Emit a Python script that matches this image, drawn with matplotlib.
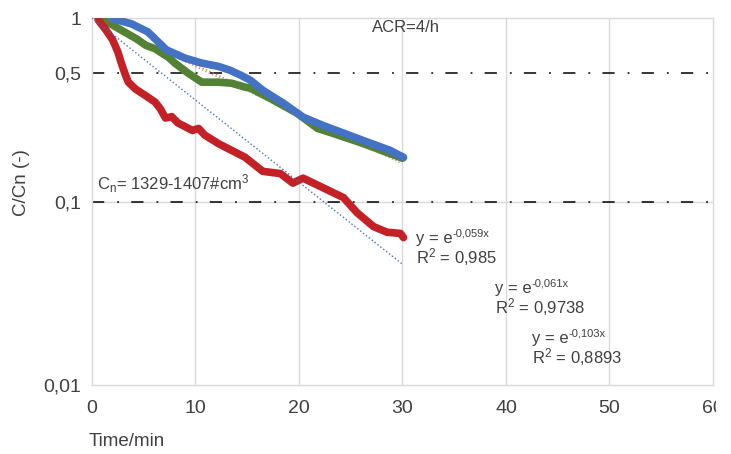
import matplotlib.pyplot as plt
import matplotlib.transforms as mtransforms
import numpy as np

plt.rcParams['font.family'] = ['Liberation Sans', 'DejaVu Sans']
plt.rcParams['mathtext.default'] = 'regular'

# data (time in min, C/Cn)
t_red = [0.6, 1.35, 2.0, 2.5, 2.8, 3.2, 3.5, 4.2, 5.1, 6.1, 6.6, 7.1, 7.7, 8.3, 9.7, 10.3, 10.9,
         12.2, 14.8, 16.5, 18.2, 19.4, 20.4, 22.3, 24.3, 25.6, 27.2, 28.5, 29.8, 30.1]
c_red = [0.975, 0.86, 0.759, 0.653, 0.575, 0.495, 0.448, 0.41, 0.38, 0.348, 0.32, 0.285, 0.29, 0.268,
         0.244, 0.25, 0.23, 0.207, 0.174, 0.146, 0.142, 0.126, 0.134, 0.119, 0.105, 0.087, 0.073,
         0.068, 0.067, 0.0636]

t_green = [0.6, 1.5, 2.8, 4.3, 5.2, 6.1, 6.9, 7.4, 8.0, 9.3, 10.6, 12.2, 13.5, 14.8, 15.3, 17.2,
           19.8, 21.8, 23.0, 26.2, 30.0]
c_green = [0.99, 0.95, 0.86, 0.77, 0.71, 0.68, 0.635, 0.61, 0.568, 0.50, 0.447, 0.447, 0.441, 0.42,
           0.415, 0.365, 0.303, 0.25, 0.238, 0.207, 0.172]

t_blue = [2.0, 3.8, 5.4, 6.4, 7.2, 9.0, 10.6, 12.2, 13.3, 14.3, 15.3, 16.5, 18.5, 20.4,
          22.3, 26.2, 28.8, 30.1]
c_blue = [0.99, 0.93, 0.84, 0.74, 0.67, 0.604, 0.568, 0.545, 0.52, 0.49, 0.458, 0.404, 0.343, 0.288,
          0.26, 0.215, 0.19, 0.174]

# exponential trendlines y = exp(k*x)
trend_k = [-0.059, -0.061, -0.103]
trend_colors = ['#ED7D31', '#A5A5A5', '#4472C4']
trend_x = [0, 30]

# trendline labels
eq_exps = ['-0,059x', '-0,061x', '-0,103x']
eq_r2 = ['0,985', '0,9738', '0,8893']

W, H = 731, 454
fig = plt.figure(figsize=(W/100, H/100), dpi=100)
ax = fig.add_axes([92/W, 1-385/H, (713-92)/W, (385-18)/H])

grid_c = '#D9D9D9'
txt_c = '#404040'

ax.set_yscale('log')
ax.set_xlim(0, 60)
ax.set_ylim(0.01, 1)

for x in [10, 20, 30, 40, 50]:
    ax.axvline(x, color=grid_c, lw=1, zorder=0)
ax.axhline(0.1, color=grid_c, lw=1, zorder=0)
for s in ax.spines.values():
    s.set_color(grid_c)
    s.set_linewidth(1)

# reference lines
for yv in [0.5, 0.1]:
    ax.plot([0, 60], [yv, yv], color='black', lw=1.1, dashes=(8, 8.5, 1.2, 8), zorder=1)

# trendlines
xs = np.linspace(trend_x[0], trend_x[1], 50)
for k, c in zip(trend_k[:2], trend_colors[:2]):
    ax.plot(xs, np.exp(k * xs), color=c, lw=1, ls=':', zorder=2)

lw = 5.5
kw = dict(lw=lw, solid_capstyle='round', solid_joinstyle='round')
ax.plot(t_green, c_green, color='#548235', zorder=3, **kw)
ax.plot(t_blue, c_blue, color='#4472C4', zorder=4, **kw)
ax.plot(t_red, c_red, color='#C42127', zorder=5, **kw)
ax.plot(xs, np.exp(trend_k[2] * xs), color=trend_colors[2], lw=1, ls=':', zorder=6)

ax.set_xticks([0, 10, 20, 30, 40, 50, 60])
ax.set_xticklabels(['0', '10', '20', '30', '40', '50', '60'])
ax.set_yticks([0.01, 0.1, 0.5, 1])
ax.set_yticklabels(['0,01', '0,1', '0,5', '1'])
ax.minorticks_off()
ax.tick_params(axis='both', length=0, labelsize=14, colors=txt_c)
ax.tick_params(axis='x', pad=11)
ax.tick_params(axis='y', pad=8)

# clip the last x label at the plot's right edge, like the original
clip = mtransforms.TransformedBbox(mtransforms.Bbox([[0, 0], [716/W, 1]]), fig.transFigure)
for lab in ax.get_xticklabels():
    lab.set_clip_box(clip)
    lab.set_clip_on(True)

fig.text(22/W, 1-183/H, 'C/Cn (-)', rotation=90, ha='center', va='center', fontsize=13.5, color=txt_c)
fig.text(89/W, 1-442/H, 'Time/min', ha='left', va='center', fontsize=13.5, color=txt_c)

fig.text(372/W, 1-27/H, 'ACR=4/h', ha='left', va='center', fontsize=12, color=txt_c)
fig.text(97/W, 1-184/H, r'C$_{n}$= 1329-1407#cm$^{3}$', ha='left', va='center', fontsize=12, color=txt_c)

# equations: "y = e" with a small raised exponent, then R² line
eq_pos = [(416, 243, 263), (495, 293, 313), (532, 343, 363)]
renderer = fig.canvas.get_renderer()
for ex, r2, (px, yb1, yb2) in zip(eq_exps, eq_r2, eq_pos):
    t1 = fig.text(px/W, 1-yb1/H, 'y = e', ha='left', va='baseline', fontsize=12, color=txt_c)
    bb = t1.get_window_extent(renderer)
    fig.text(bb.x1/W, 1-(yb1-7)/H, ex, ha='left', va='baseline', fontsize=8, color=txt_c)
    fig.text(px/W, 1-yb2/H, r'R$^{2}$ = ' + r2, ha='left', va='baseline', fontsize=12, color=txt_c)

fig.savefig('out.png', dpi=100)
